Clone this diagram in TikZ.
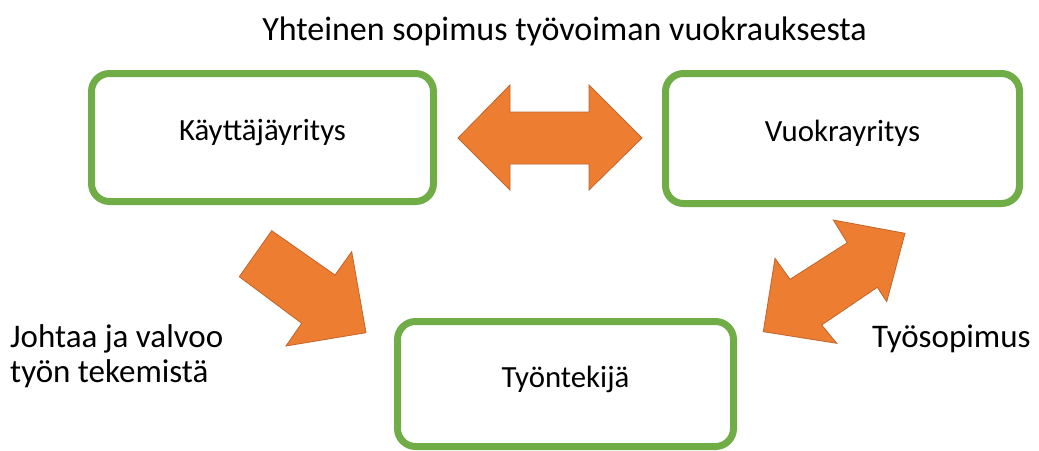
\documentclass[tikz,border=0pt]{standalone}
\usepackage{fontspec}
\setmainfont{Carlito}
\definecolor{boxgreen}{HTML}{70AD47}
\definecolor{arroworange}{HTML}{ED7D31}
\definecolor{arrowedge}{HTML}{C0652C}
\begin{document}
\begin{tikzpicture}[x=1pt,y=-1pt,
  entity/.style={draw=boxgreen, line width=7pt, rounded corners=18pt, fill=white,
    inner sep=0pt, text height=0.644em, text depth=0pt,
    font=\fontsize{30.8}{36}\selectfont},
  blockarrow/.style={fill=arroworange, draw=arrowedge, line width=0.8pt, line join=miter},
  label/.style={font=\fontsize{33}{36}\selectfont, inner sep=0pt, anchor=base west}]
\useasboundingbox (0,0) rectangle (1039,450);
% boxes
\node[entity, minimum width=342pt, minimum height=128pt] (user) at (262.5,137.5) {Käyttäjäyritys};
\node[entity, minimum width=354pt, minimum height=130pt] (agency) at (842.5,138.5) {Vuokrayritys};
\node[entity, minimum width=336pt, minimum height=125pt] (worker) at (565.5,384) {Työntekijä};
% title
\node[font=\fontsize{34}{40}\selectfont, inner sep=0pt, anchor=base] (title) at (564.5,40) {Yhteinen sopimus työvoiman vuokrauksesta};
% horizontal double arrow between user and agency
\draw[blockarrow] (458,138) -- (510,85) -- (510,112) -- (589,112) -- (589,85) -- (642,138)
  -- (589,190) -- (589,164) -- (510,164) -- (510,190) -- cycle;
% arrow from user to worker
\draw[blockarrow] (271.7,230.7) -- (335,275) -- (351.7,251.7) -- (366,332.7) -- (286,346)
  -- (301.7,323.3) -- (239.3,276.7) -- cycle;
% double arrow between worker and agency
\draw[blockarrow] (905,233.3) -- (886.7,301.7) -- (877.3,287.3) -- (821.7,325) -- (836.7,343.3)
  -- (763.3,331.7) -- (775,258.3) -- (790,279.3) -- (847.3,242.7) -- (833.3,220) -- cycle;
% labels
\node[label] (lead1) at (10,347) {Johtaa ja valvoo};
\node[label] (lead2) at (10,382) {työn tekemistä};
\node[label] (contract) at (872,347) {Työsopimus};
\end{tikzpicture}
\end{document}
